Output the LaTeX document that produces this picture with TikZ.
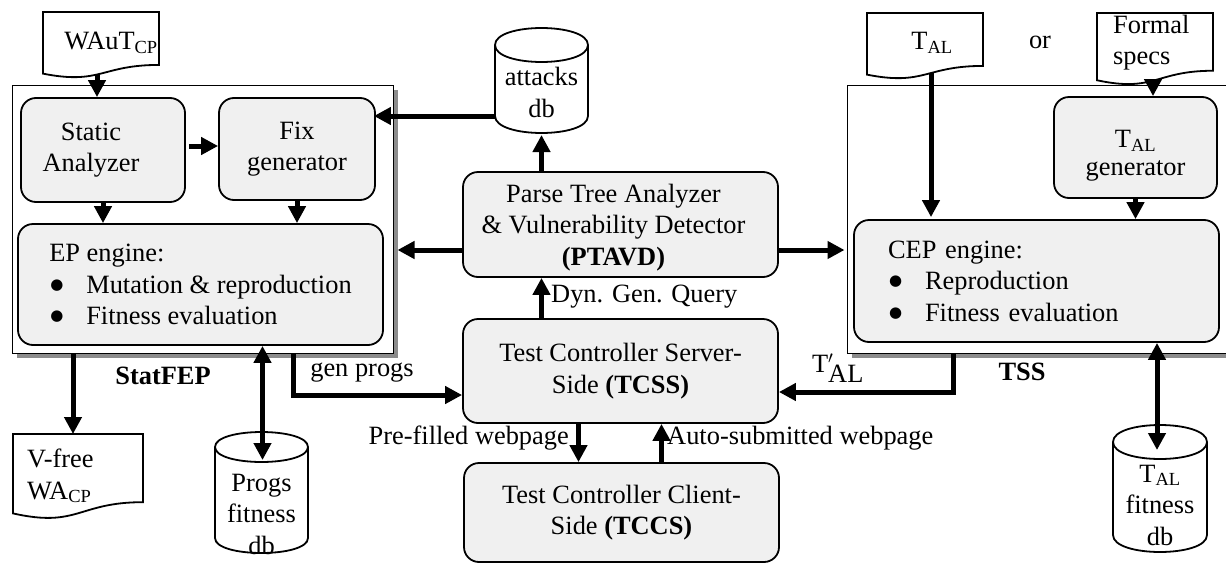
\documentclass[tikz,border=0pt]{standalone}
\usepackage{fontspec}
\setmainfont{Liberation Serif}
\newfontfamily\symfnt{DejaVu Sans}
\usetikzlibrary{arrows.meta,calc}
\definecolor{boxgray}{RGB}{240,240,240}
\definecolor{shadowgray}{RGB}{140,140,140}
\newcommand\mainfs{\fontsize{26.4}{31.5}\selectfont}
\newcommand\bul{\makebox[37pt][l]{\hspace{1pt}\raisebox{4pt}{\symfnt\fontsize{15}{15}\selectfont ●}}}
\newcommand\docpath[1]{%
  \draw[docline] (#1.north west) -- (#1.north east) -- ($(#1.north east)!0.802!(#1.south east)$)
    .. controls ($(#1.north)!0.802!(#1.south)$) and ($(#1.north)!1.107!(#1.south)$) ..
    ($(#1.north west)!0.934!(#1.south west)$) -- cycle;}
\newcommand\cylpath[5]{% x1 yt x2 yb ry
  \draw[docline] (#1,#2+#5) -- (#1,#4-#5)
    .. controls (#1,#4-#5+1.3333*#5) and (#3,#4-#5+1.3333*#5) .. (#3,#4-#5)
    -- (#3,#2+#5)
    .. controls (#3,#2+#5-1.3333*#5) and (#1,#2+#5-1.3333*#5) .. (#1,#2+#5) -- cycle;
  \draw[docline] (#1,#2+#5) .. controls (#1,#2+#5+1.3333*#5) and (#3,#2+#5+1.3333*#5) .. (#3,#2+#5);}
\tikzset{
  rbox/.style={draw, line width=1.8pt, rounded corners=15pt, fill=boxgray, inner sep=0pt, align=center, font=\mainfs},
  outerbox/.style={draw, line width=1pt, fill=white, inner sep=0pt},
  shapenode/.style={inner sep=0pt, outer sep=0pt},
  docline/.style={line width=1.8pt, fill=white},
  lbl/.style={inner sep=0pt, font=\mainfs, align=center},
  arr/.style={line width=5pt, -{Triangle[length=17pt,width=17pt]}},
  biarr/.style={line width=5pt, {Triangle[length=17pt,width=17pt]}-{Triangle[length=17pt,width=17pt]}},
}
\begin{document}
\begin{tikzpicture}[x=1pt,y=-1pt]
\useasboundingbox (0,0) rectangle (1226,565);
\clip (0,0) rectangle (1226,565);
% outer boxes with shadows
\fill[shadowgray] (17,90) rectangle (398,358);
\node[outerbox, minimum width=381pt, minimum height=268pt] (statfep) at (202.5,219) {};
\fill[shadowgray] (852,90) rectangle (1245,358);
\node[outerbox, minimum width=393pt, minimum height=268pt] (tss) at (1043.5,219) {};
% cylinders
\cylpath{495}{28}{588}{133}{17}
\node[shapenode, minimum width=93pt, minimum height=105pt] (attacks) at (541.5,80.5) {};
\node[lbl] (attacksT) at (541.5,92.5) {attacks\\db};
\cylpath{215}{432}{308}{553}{15}
\node[shapenode, minimum width=93pt, minimum height=121pt] (progs) at (261.5,492.5) {};
\node[lbl] (progsT) at (261.5,514) {Progs\\fitness\\db};
\cylpath{1113}{425}{1207}{552}{17}
\node[shapenode, minimum width=94pt, minimum height=127pt] (talfit) at (1160,488.5) {};
\node[lbl] (talfitT) at (1160,505) {T\textsubscript{AL}\\fitness\\db};
% documents
\node[shapenode, minimum width=116pt, minimum height=66pt] (waut) at (101,45) {};
\docpath{waut}
\node[lbl] (wautT) at (111,43) {WAuT\textsubscript{CP}};
\node[shapenode, minimum width=116pt, minimum height=66pt] (taldoc) at (925,46) {};
\docpath{taldoc}
\node[lbl] (taldocT) at (932,43) {T\textsubscript{AL}};
\node[shapenode, minimum width=116pt, minimum height=72pt] (formal) at (1155,49) {};
\docpath{formal}
\node[lbl, align=left, anchor=west] (formalT) at (1113,42.5) {Formal\\specs};
\node[shapenode, minimum width=130pt, minimum height=85pt] (vfree) at (78,476.5) {};
\docpath{vfree}
\node[lbl, align=left, anchor=west] (vfreeT) at (27,476) {V-free\\WA\textsubscript{CP}};
\node[lbl] (or) at (1040,42) {or};
% inner boxes
\node[rbox, minimum width=164pt, minimum height=104pt] (static) at (103,150) {Static\rule{24pt}{0pt}\\Analyzer\rule{24pt}{0pt}};
\node[rbox, minimum width=156pt, minimum height=102pt] (fix) at (297,149) {Fix\\generator};
\node[rbox, minimum width=365pt, minimum height=121pt, align=left] (ep) at (200.5,284.5)
  {EP engine:\\\bul Mutation \& reproduction\\\bul Fitness evaluation};
\node[rbox, minimum width=163pt, minimum height=101pt] (talgen) at (1135.5,147.5) {\rule{0pt}{34pt}T\textsubscript{AL}\\[-3.5pt]generator};
\node[rbox, text width=297pt, inner xsep=34pt, minimum height=122pt, align=left] (cep) at (1036.5,281)
  {CEP engine:\\\bul Reproduction\\\bul Fitness evaluation};
\node[rbox, minimum width=315pt, minimum height=105pt] (ptavd) at (620.5,224.5)
  {\rule{0pt}{24pt}Parse Tree Analyzer\rule{14pt}{0pt}\\\& Vulnerability Detector\rule{14pt}{0pt}\\\textbf{(PTAVD)}\rule{14pt}{0pt}};
\node[rbox, minimum width=315pt, minimum height=104pt] (tcss) at (620.5,371)
  {Test Controller Server-\\Side \textbf{(TCSS)}};
\node[rbox, minimum width=315pt, minimum height=99pt] (tccs) at (621.5,512.5)
  {Test Controller Client-\\Side \textbf{(TCCS)}};
% labels
\node[lbl, font=\mainfs\bfseries] (statfepL) at (163,376) {StatFEP};
\node[lbl, font=\mainfs\bfseries] (tssL) at (1022,372) {TSS};
\node[lbl] (genL) at (362,373) {gen progs};
\node[lbl, anchor=west] (dynL) at (551,297) {Dyn. Gen. Query};
\node[lbl, anchor=east] (preL) at (569,438) {Pre-filled webpage};
\node[lbl, anchor=west] (autoL) at (667,438) {Auto-submitted webpage};
\node[lbl] (tpL) at (838,368) {T$'_{\textrm{AL}}$};
% connectors
\coordinate (w1) at ($(waut.south)+(-4,-4)$);
\draw[arr] (w1) -- (w1 |- static.north);
\draw[arr] ($(static.east)+(3,-4)$) -- ($(fix.west)+(0,-3)$);
\coordinate (a1) at ($(attacks.south west)+(0,-17)$);
\draw[arr] (a1) -- ($(a1 -| fix.east)+(-2,0)$);
\draw[arr] (attacks.south |- ptavd.north) -- ($(attacks.south)+(0,2)$);
\draw[arr] (static.south) -- (static.south |- ep.north);
\draw[arr] (fix.south) -- (fix.south |- ep.north);
\coordinate (p1) at ($(ptavd.west)+(0,25.5)$);
\draw[arr] (p1) -- ($(p1 -| statfep.east)+(4,0)$);
\coordinate (p2) at ($(ptavd.east)+(0,25.5)$);
\draw[arr] (p2) -- ($(p2 -| tss.west)+(-2,0)$);
\draw[arr] (attacks.south |- tcss.north) -- (attacks.south |- ptavd.south);
\coordinate (g1) at ($(tcss.west)+(0,24)$);
\coordinate (g0) at ($(fix.south)+(-4,0)$);
\draw[arr] (g0 |- statfep.south) |- (g1);
\coordinate (t0) at (953,0);
\coordinate (t1) at ($(tcss.east)+(0,21)$);
\draw[arr] (t0 |- tss.south) |- (t1);
\draw[arr] ($(tcss.south)+(-42,0)$) -- ($(tccs.north)+(-43,0)$);
\draw[arr] ($(tccs.north)+(40,0)$) -- ($(tcss.south)+(41,0)$);
\coordinate (v1) at ($(vfree.north)+(-5,0)$);
\draw[arr] (v1 |- statfep.south) -- (v1);
\draw[biarr] ($(progs.north |- ep.south)+(1,0)$) -- ($(progs.north)+(1,28)$);
\draw[biarr] ($(talfit.north |- cep.south)+(-3,0)$) -- ($(talfit.north)+(-3,25)$);
\coordinate (t2) at ($(taldoc.south)+(6,-6)$);
\draw[arr] (t2) -- ($(t2 |- cep.north)+(0,-2)$);
\coordinate (f1) at ($(formal.south)+(-2,-5)$);
\draw[arr] (f1) -- (f1 |- talgen.north);
\draw[arr] (talgen.south) -- (talgen.south |- cep.north);
\end{tikzpicture}
\end{document}
